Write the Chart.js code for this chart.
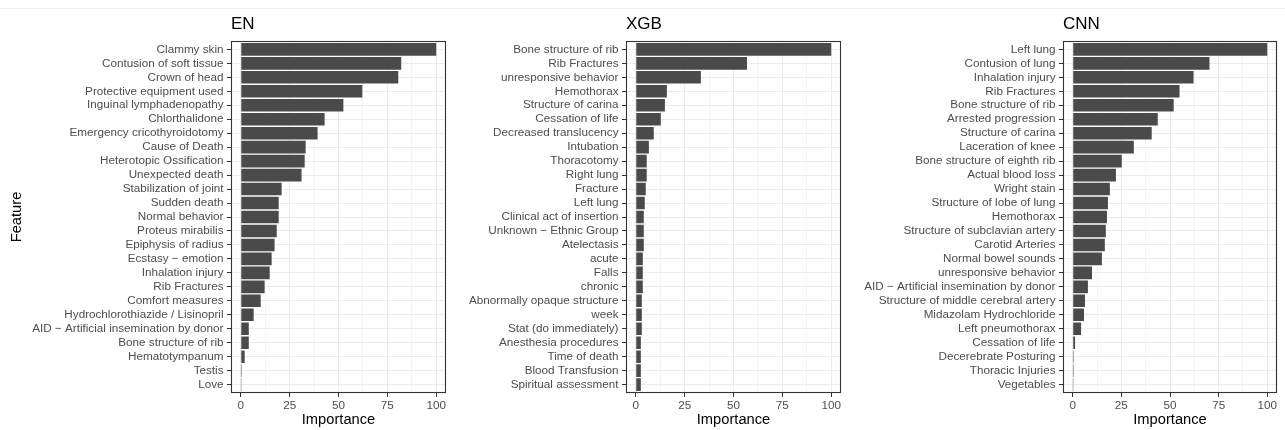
<!DOCTYPE html>
<html>
<head>
<meta charset="utf-8">
<script src="https://cdn.jsdelivr.net/npm/chart.js@4/dist/chart.umd.min.js"></script>
<style>
  body { margin: 0; background: #fff; font-family: 'Liberation Sans', Arial, sans-serif; }
  #wrap { position: relative; width: 1285px; height: 430px; overflow: hidden; }
  .panel { position: absolute; top: 0; height: 430px; }
  .title { position: absolute; top: 15px; font-size: 17px; line-height: 17px; color: #000; }
  #topline { position: absolute; left: 0; top: 8px; width: 1285px; height: 1px; background: #eeeeee; }
</style>
</head>
<body>
<div id="wrap">
  <div id="topline"></div>
  <div class="panel" style="left:0;width:455px"><canvas id="chartEN"></canvas></div>
  <div class="panel" style="left:455px;width:395px"><canvas id="chartXGB"></canvas></div>
  <div class="panel" style="left:850px;width:435px"><canvas id="chartCNN"></canvas></div>
  <div class="title" style="left:231px">EN</div>
  <div class="title" style="left:626px">XGB</div>
  <div class="title" style="left:1063px">CNN</div>
</div>
<script>
// valores (importancia escalada 0-100)
const enLabels = [
  'Clammy skin', 'Contusion of soft tissue', 'Crown of head', 'Protective equipment used',
  'Inguinal lymphadenopathy', 'Chlorthalidone', 'Emergency cricothyroidotomy', 'Cause of Death',
  'Heterotopic Ossification', 'Unexpected death', 'Stabilization of joint', 'Sudden death',
  'Normal behavior', 'Proteus mirabilis', 'Epiphysis of radius', 'Ecstasy \u2212 emotion',
  'Inhalation injury', 'Rib Fractures', 'Comfort measures', 'Hydrochlorothiazide / Lisinopril',
  'AID \u2212 Artificial insemination by donor', 'Bone structure of rib', 'Hematotympanum', 'Testis', 'Love'
];
const enValues = [100, 82.1, 80.6, 62.2, 52.5, 42.9, 39.3, 33.2, 32.7, 31.1, 20.9, 19.4, 19.4,
  18.4, 17.3, 15.8, 14.8, 12.2, 10.2, 6.6, 4.1, 4.1, 2.0, 0.5, 0.1];

const xgbLabels = [
  'Bone structure of rib', 'Rib Fractures', 'unresponsive behavior', 'Hemothorax',
  'Structure of carina', 'Cessation of life', 'Decreased translucency', 'Intubation',
  'Thoracotomy', 'Right lung', 'Fracture', 'Left lung', 'Clinical act of insertion',
  'Unknown \u2212 Ethnic Group', 'Atelectasis', 'acute', 'Falls', 'chronic',
  'Abnormally opaque structure', 'week', 'Stat (do immediately)', 'Anesthesia procedures',
  'Time of death', 'Blood Transfusion', 'Spiritual assessment'
];
const xgbValues = [100, 56.9, 33.3, 15.9, 14.9, 12.8, 9.2, 6.7, 5.6, 5.6, 5.1, 4.6, 4.1,
  4.1, 4.1, 3.6, 3.6, 3.6, 3.1, 3.1, 3.1, 2.6, 2.6, 2.6, 2.6];

const cnnLabels = [
  'Left lung', 'Contusion of lung', 'Inhalation injury', 'Rib Fractures', 'Bone structure of rib',
  'Arrested progression', 'Structure of carina', 'Laceration of knee', 'Bone structure of eighth rib',
  'Actual blood loss', 'Wright stain', 'Structure of lobe of lung', 'Hemothorax',
  'Structure of subclavian artery', 'Carotid Arteries', 'Normal bowel sounds', 'unresponsive behavior',
  'AID \u2212 Artificial insemination by donor', 'Structure of middle cerebral artery',
  'Midazolam Hydrochloride', 'Left pneumothorax', 'Cessation of life', 'Decerebrate Posturing',
  'Thoracic Injuries', 'Vegetables'
];
const cnnValues = [100, 70.3, 62.1, 54.9, 51.9, 43.7, 40.6, 31.4, 25.2, 22.2, 19.1, 18.1, 17.6,
  17.0, 16.5, 15.0, 9.9, 7.8, 6.3, 5.8, 4.3, 1.2, 0.5, 0.5, 0.1];

const xTicks = [0, 12.5, 25, 37.5, 50, 62.5, 75, 87.5, 100];
const majorTicks = [0, 25, 50, 75, 100];

const fontName = "'Liberation Sans', Arial, Helvetica, sans-serif";

// borde del panel tipo theme_bw (expansion discreta de 0.6 en vez de 0.5)
const panelBorder = {
  id: 'panelBorder',
  afterDatasetsDraw(chart) {
    const { ctx, chartArea: a } = chart;
    const band = (a.bottom - a.top) / chart.data.labels.length;
    const ext = 0.1 * band;
    const top = Math.round(a.top - ext);
    const bottom = Math.round(a.bottom + ext);
    ctx.save();
    // extender las lineas verticales de la grilla hasta el borde
    const xs = chart.scales.x;
    xTicks.forEach(v => {
      const px = Math.round(xs.getPixelForValue(v)) + 0.5;
      ctx.strokeStyle = majorTicks.includes(v) ? '#ebebeb' : '#f4f4f4';
      ctx.lineWidth = 1;
      ctx.beginPath();
      ctx.moveTo(px, top); ctx.lineTo(px, a.top);
      ctx.moveTo(px, a.bottom); ctx.lineTo(px, bottom);
      ctx.stroke();
    });
    ctx.strokeStyle = '#333333';
    ctx.lineWidth = 1.1;
    ctx.strokeRect(Math.round(a.left) + 0.5, top + 0.5,
      Math.round(a.right - a.left) - 1, bottom - top - 1);
    ctx.restore();
  }
};

function makePanel(canvasId, labels, values, yWidth, padRight, showYTitle) {
  const ctx = document.getElementById(canvasId).getContext('2d');
  return new Chart(ctx, {
    type: 'bar',
    data: {
      labels: labels,
      datasets: [{
        data: values,
        backgroundColor: '#4a4a4a',
        borderWidth: 0,
        barPercentage: 0.9,
        categoryPercentage: 1.0,
      }]
    },
    options: {
      indexAxis: 'y',
      responsive: true,
      maintainAspectRatio: false,
      animation: false,
      events: [],
      layout: { padding: { top: 42.4, right: padRight, bottom: 0, left: 0 } },
      plugins: { legend: { display: false }, tooltip: { enabled: false } },
      scales: {
        x: {
          type: 'linear',
          min: -5,
          max: 105,
          afterBuildTicks: (scale) => { scale.ticks = xTicks.map(v => ({ value: v })); },
          afterFit: (scale) => { scale.height = 38.4; },
          border: { display: false },
          grid: {
            color: (c) => majorTicks.includes(c.tick.value) ? '#ebebeb' : '#f4f4f4',
            tickColor: (c) => majorTicks.includes(c.tick.value) ? '#333333' : 'rgba(0,0,0,0)',
            tickLength: 5.4,
            lineWidth: 1,
          },
          ticks: {
            autoSkip: false,
            maxRotation: 0,
            padding: 2,
            color: '#4d4d4d',
            font: { family: fontName, size: 11.7 },
            callback: (v) => majorTicks.includes(v) ? String(v) : '',
          },
          title: {
            display: true,
            text: 'Importance',
            color: '#000',
            font: { family: fontName, size: 14.7 },
            padding: { top: 0, bottom: 1 },
          }
        },
        y: {
          afterFit: (scale) => { scale.width = yWidth; },
          border: { display: false },
          grid: {
            offset: false,
            color: '#ebebeb',
            tickColor: '#333333',
            tickLength: 4,
            lineWidth: 1,
          },
          ticks: {
            autoSkip: false,
            padding: 3.5,
            color: '#4d4d4d',
            font: { family: fontName, size: 11.7 },
          },
          title: {
            display: showYTitle,
            text: 'Feature',
            color: '#000',
            font: { family: fontName, size: 14.7 },
            padding: { top: 8, bottom: 0 },
          }
        }
      }
    },
    plugins: [panelBorder]
  });
}

makePanel('chartEN', enLabels, enValues, 231, 9, true);
makePanel('chartXGB', xgbLabels, xgbValues, 171, 9, false);
makePanel('chartCNN', cnnLabels, cnnValues, 213, 8, false);
</script>
</body>
</html>
